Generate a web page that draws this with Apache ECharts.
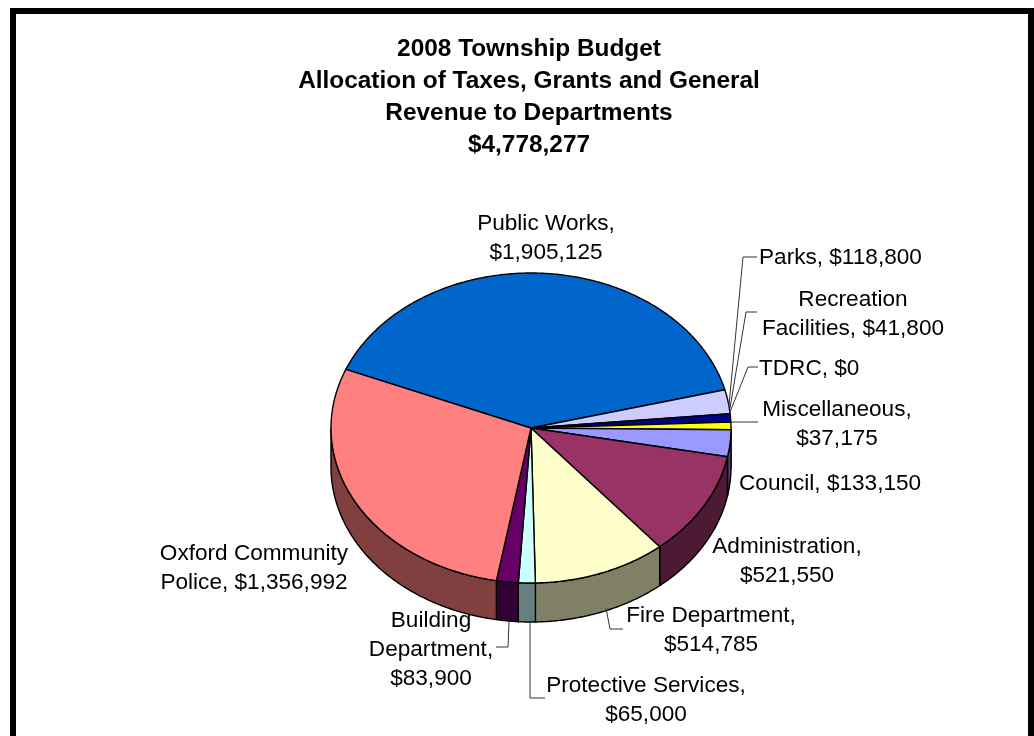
<!DOCTYPE html>
<html>
<head>
<meta charset="utf-8">
<title>2008 Township Budget</title>
<style>
  html, body { margin: 0; padding: 0; background: #fff; }
  #chart { width: 1034px; height: 736px; }
</style>
<script src="https://cdn.jsdelivr.net/npm/echarts@6/dist/echarts.min.js"></script>
</head>
<body>
<div id="chart"></div>
<script>
// data, clockwise from the Public Works slice
var titleLines = ['2008 Township Budget', 'Allocation of Taxes, Grants and General', 'Revenue to Departments', '$4,778,277'];
var departments = ['Public Works', 'Parks', 'Recreation\nFacilities', 'TDRC', 'Miscellaneous', 'Council', 'Administration', 'Fire Department', 'Protective Services', 'Building\nDepartment', 'Oxford Community\nPolice'];
var budgets = [1905125, 118800, 41800, 0, 37175, 133150, 521550, 514785, 65000, 83900, 1356992];
var topColors = ['#0066cc', '#ccccff', '#000080', '#ccffcc', '#ffff00', '#9999ff', '#993366', '#ffffcc', '#ccffff', '#660066', '#ff8080'];
var wallColors = ['#003366', '#666680', '#000040', '#668066', '#808000', '#4d4d80', '#4d1a33', '#808066', '#668080', '#330033', '#804040'];

// pie geometry
var CX = 531, CY = 428, RX = 200, RY = 155, DEPTH = 39, START_DEG = -67.8;
var total = budgets.reduce(function (a, b) { return a + b; }, 0);

// label boxes and leader lines, same order as departments
var labelLayout = [
    { x: 546, y: 238, align: 'center', br: true },
    { x: 759, y: 258, align: 'left', line: [[729, 405], [743, 257], [757, 257]] },
    { x: 853, y: 314, align: 'center', line: [[730, 408], [746, 312], [757, 312]] },
    { x: 759, y: 369, align: 'left', line: [[730, 412], [748, 367], [758, 367]] },
    { x: 837, y: 424, align: 'center', br: true, line: [[731, 422], [758, 422]] },
    { x: 739, y: 484, align: 'left' },
    { x: 787, y: 561, align: 'center', br: true },
    { x: 711, y: 630, align: 'center', br: true, line: [[606, 608], [610, 629], [623, 629]] },
    { x: 646, y: 700, align: 'center', br: true, line: [[530, 622], [530, 698], [545, 698]] },
    { x: 431, y: 650, align: 'center', br: true, line: [[509, 622], [508, 647], [496, 647]] },
    { x: 254, y: 568, align: 'center' }
];

function sliceRange(i) {
    var before = 0;
    for (var k = 0; k < i; k++) before += budgets[k];
    return [START_DEG + before / total * 360, START_DEG + (before + budgets[i]) / total * 360];
}

function ellipsePoint(deg, drop) {
    var a = deg * Math.PI / 180;
    return [CX + RX * Math.sin(a), CY - RY * Math.cos(a) + drop];
}

function arcPoints(from, to, drop) {
    var pts = [], n = Math.max(2, Math.ceil(Math.abs(to - from) * 2));
    for (var s = 0; s <= n; s++) pts.push(ellipsePoint(from + (to - from) * s / n, drop));
    return pts;
}

function renderTop(params) {
    var i = params.dataIndex;
    if (!budgets[i]) return null;
    var r = sliceRange(i);
    return {
        type: 'polygon',
        shape: { points: [[CX, CY]].concat(arcPoints(r[0], r[1], 0)) },
        style: { fill: topColors[i], stroke: '#000', lineWidth: 1.4, lineJoin: 'round' }
    };
}

// only the part of a slice on the front half of the ellipse shows a wall
function renderWall(params) {
    var i = params.dataIndex;
    if (!budgets[i]) return null;
    var r = sliceRange(i);
    var from = Math.max(r[0], 90), to = Math.min(r[1], 270);
    if (to <= from) return null;
    return {
        type: 'polygon',
        shape: { points: arcPoints(from, to, 0).concat(arcPoints(to, from, DEPTH)) },
        style: { fill: wallColors[i], stroke: '#000', lineWidth: 1.4, lineJoin: 'round' }
    };
}

function money(v) {
    return '$' + v.toString().replace(/\B(?=(\d{3})+(?!\d))/g, ',');
}

var elements = [{
    type: 'rect',
    shape: { x: 13, y: 11, width: 1018, height: 740 },
    style: { fill: 'none', stroke: '#000', lineWidth: 6 }
}];

departments.forEach(function (name, i) {
    var lay = labelLayout[i];
    if (lay.line) {
        elements.push({
            type: 'polyline',
            shape: { points: lay.line },
            style: { fill: 'none', stroke: '#333', lineWidth: 1 },
            z: 5
        });
    }
    elements.push({
        type: 'text',
        x: lay.x,
        y: lay.y,
        z: 6,
        style: {
            text: name + (lay.br ? ',\n' : ', ') + money(budgets[i]),
            fill: '#000',
            font: '22.6px "Liberation Sans", Arial, sans-serif',
            lineHeight: 29,
            align: lay.align,
            verticalAlign: 'middle'
        }
    });
});

var chart = echarts.init(document.getElementById('chart'));
chart.setOption({
    animation: false,
    backgroundColor: '#fff',
    title: {
        text: titleLines.join('\n'),
        left: 524,
        top: 28,
        textAlign: 'center',
        textStyle: {
            fontFamily: '"Liberation Sans", Arial, sans-serif',
            fontSize: 24.4,
            fontWeight: 'bold',
            color: '#000',
            lineHeight: 32
        }
    },
    graphic: { elements: elements },
    series: [
        { type: 'custom', coordinateSystem: 'none', silent: true, z: 1, data: budgets, renderItem: renderWall },
        { type: 'custom', coordinateSystem: 'none', silent: true, z: 2, data: budgets, renderItem: renderTop }
    ]
});
</script>
</body>
</html>
